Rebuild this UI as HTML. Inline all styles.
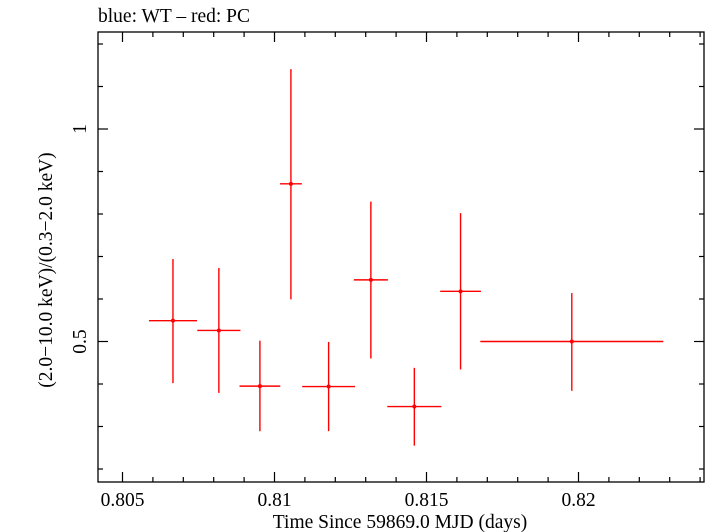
<!DOCTYPE html>
<html><head><meta charset="utf-8"><style>
body{margin:0;background:#fff}
svg{display:block;font-family:"Liberation Serif",serif}
</style></head><body>
<svg id="chart" width="705" height="532" viewBox="0 0 705 532" xmlns="http://www.w3.org/2000/svg">
<text x="98" y="22" font-size="19.5">blue: WT – red: PC</text>
<rect x="98" y="32" width="606" height="450" fill="none" stroke="#000" stroke-width="1.3"/>
<g id="ticks"></g>
<g id="marks"></g>
<text x="400" y="528" font-size="19.5" text-anchor="middle">Time Since 59869.0 MJD (days)</text>
<text transform="translate(52,270) rotate(-90)" font-size="19.5" text-anchor="middle">(2.0−10.0 keV)/(0.3−2.0 keV)</text>
</svg>
<script>
const times=[0.80666,0.80817,0.80952,0.81054,0.81178,0.81317,0.81460,0.81612,0.81978];
const timeErr=[0.00079,0.00071,0.00067,0.00036,0.00087,0.00056,0.00089,0.00067,0.00301];
const ratios=[0.549,0.526,0.395,0.871,0.394,0.645,0.347,0.618,0.500];
const ratioHi=[0.694,0.673,0.502,1.141,0.499,0.829,0.438,0.802,0.614];
const ratioLo=[0.402,0.379,0.289,0.599,0.289,0.460,0.255,0.434,0.384];
const xTickLabels=["0.805","0.81","0.815","0.82"];
const xTickValues=[0.805,0.81,0.815,0.82];
const yTickLabels=["0.5","1"];
const yTickValues=[0.5,1];
const NS="http://www.w3.org/2000/svg";
const X0=98,X1=704,Y0=32,Y1=482;
function xs(v){return 122.5+(v-0.805)*30400;}
function ys(v){return 129+(1-v)*425;}
function mk(t,a,p){const e=document.createElementNS(NS,t);for(const k in a)e.setAttribute(k,a[k]);p.appendChild(e);return e;}
const tk=document.getElementById('ticks');
for(let i=0;;i++){const v=0.805+i*0.001-0.001;const x=xs(v);if(x>X1)break;if(x<X0)continue;
 const major=Math.abs(Math.round(v*1000)%5)===0;const L=major?10:5;
 const a=mk('line',{x1:x,x2:x,y1:Y1,y2:Y1-L,stroke:'#000','stroke-width':1.2},tk);
 
 
 const b=mk('line',{x1:x,x2:x,y1:Y0,y2:Y0+L,stroke:'#000','stroke-width':1.2},tk);
 
 }
for(let i=1;i<=12;i++){const v=i/10;const y=ys(v);if(y<Y0||y>Y1)continue;
 const major=(i===5||i===10);const L=major?10:5;
 const a=mk('line',{x1:X0,x2:X0+L,y1:y,y2:y,stroke:'#000','stroke-width':1.2},tk);
 
 
 const b=mk('line',{x1:X1,x2:X1-L,y1:y,y2:y,stroke:'#000','stroke-width':1.2},tk);
 
 }
xTickLabels.forEach((l,i)=>{const t=mk('text',{x:xs(xTickValues[i]),y:506,'font-size':19.5,'text-anchor':'middle'},tk);t.textContent=l;
 
 });
yTickLabels.forEach((l,i)=>{const y=ys(yTickValues[i]);const t=mk('text',{transform:`translate(86,${y}) rotate(-90)`,'font-size':19.5,'text-anchor':'middle'},tk);t.textContent=l;
 
 });
const mg=document.getElementById('marks');
times.forEach((t,i)=>{const g=mk('g',{},mg);
 
 
 mk('line',{x1:xs(t-timeErr[i]),x2:xs(t+timeErr[i]),y1:ys(ratios[i]),y2:ys(ratios[i]),stroke:'#f00','stroke-width':1.4},g);
 mk('line',{x1:xs(t),x2:xs(t),y1:ys(ratioHi[i]),y2:ys(ratioLo[i]),stroke:'#f00','stroke-width':1.4},g);
 mk('circle',{cx:xs(t),cy:ys(ratios[i]),r:2,fill:'#f00'},g);});
</script>
</body></html>
